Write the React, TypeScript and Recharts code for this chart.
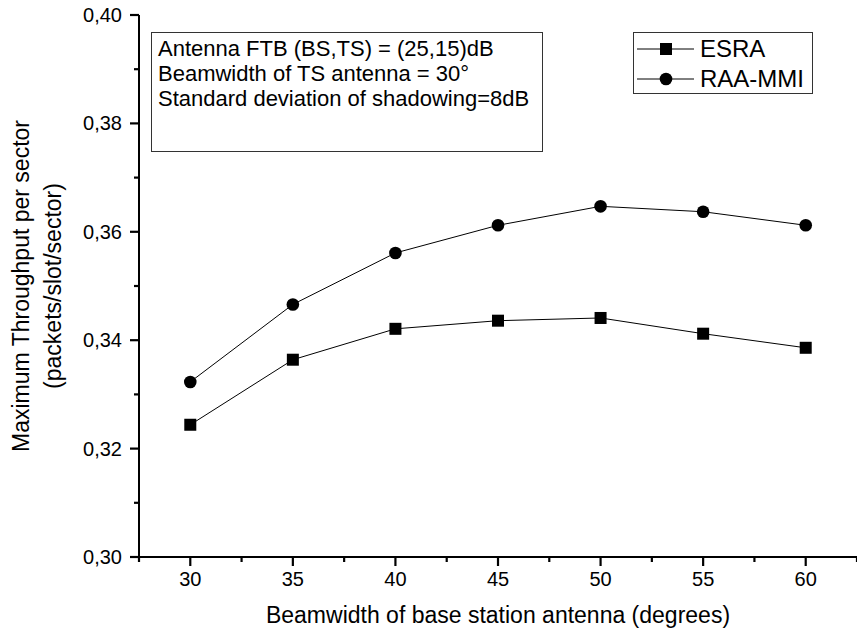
import { Legend, Line, LineChart, XAxis, YAxis } from "recharts";

const beamwidths = [30, 35, 40, 45, 50, 55, 60];
const esra = [0.3244, 0.3364, 0.3421, 0.3436, 0.3441, 0.3412, 0.3386];
const raaMmi = [0.3323, 0.3466, 0.3561, 0.3612, 0.3647, 0.3637, 0.3612];

const xTicks = [27.5, 30, 32.5, 35, 37.5, 40, 42.5, 45, 47.5, 50, 52.5, 55, 57.5, 60, 62.5];
const yTicks = [0.3, 0.31, 0.32, 0.33, 0.34, 0.35, 0.36, 0.37, 0.38, 0.39, 0.4];

const noteLines = [
  "Antenna FTB (BS,TS) = (25,15)dB",
  "Beamwidth of TS antenna = 30°",
  "Standard deviation of shadowing=8dB",
];

const data = beamwidths.map((b, i) => ({ b, esra: esra[i], raa: raaMmi[i] }));

const FONT = "Arial, 'Liberation Sans', sans-serif";

// tick marks: major 9px, minor 5px, pointing outward
function XTick(props: any) {
  const { x, y, payload } = props;
  const major = payload.value % 5 === 0;
  const len = major ? 9 : 5;
  return (
    <g>
      <path d={`M${x},${y}V${y + len}`} stroke="#000" strokeWidth={2.2} fill="none" />
      {major && (
        <text x={x} y={y + 29} textAnchor="middle" fontSize={20} fontFamily={FONT} fill="#000">
          {payload.value}
        </text>
      )}
    </g>
  );
}

function YTick(props: any) {
  const { x, y, payload } = props;
  const major = Math.round(payload.value * 100) % 2 === 0;
  const len = major ? 9 : 5;
  return (
    <g>
      <path d={`M${x},${y}H${x - len}`} stroke="#000" strokeWidth={2.2} fill="none" />
      {major && (
        <text x={x - 17} y={y} dy="0.35em" textAnchor="end" fontSize={20} fontFamily={FONT} fill="#000">
          {payload.value.toFixed(2).replace(".", ",")}
        </text>
      )}
    </g>
  );
}

function SquareDot(props: any) {
  const { cx, cy, index } = props;
  return <rect key={"s" + index} x={cx - 6} y={cy - 6} width={12} height={12} fill="#000" />;
}

function CircleDot(props: any) {
  const { cx, cy, index } = props;
  return <circle key={"c" + index} cx={cx} cy={cy} r={6.3} fill="#000" />;
}

function LegendBox() {
  const row = (label: string, square: boolean) => (
    <div style={{ display: "flex", alignItems: "center", height: 30 }}>
      <svg width={62} height={20}>
        <line x1={3} x2={60} y1={10} y2={10} stroke="#000" strokeWidth={1} />
        {square ? <rect x={26} y={4} width={12} height={12} fill="#000" /> : <circle cx={32} cy={10} r={6.3} fill="#000" />}
      </svg>
      <span style={{ marginLeft: 4 }}>{label}</span>
    </div>
  );
  return (
    <div
      style={{
        border: "1px solid #333",
        width: 180,
        height: 62,
        boxSizing: "border-box",
        fontFamily: FONT,
        fontSize: 24,
        color: "#000",
        paddingTop: 1,
        background: "#fff",
      }}
    >
      {row("ESRA", true)}
      {row("RAA-MMI", false)}
    </div>
  );
}

export default function App() {
  return (
    <div style={{ position: "absolute", left: 0, top: 0, width: 857, height: 632, background: "#fff" }}>
      <LineChart width={857} height={632} data={data} margin={{ top: 15, right: 0, bottom: 0, left: 0 }}>
        <XAxis
          dataKey="b"
          type="number"
          domain={[27.5, 62.5]}
          ticks={xTicks}
          interval={0}
          height={75}
          tickSize={0}
          tickMargin={0}
          tickLine={false}
          axisLine={{ stroke: "#000", strokeWidth: 2 }}
          tick={XTick}
        />
        <YAxis
          type="number"
          domain={[0.3, 0.4]}
          ticks={yTicks}
          interval={0}
          width={139}
          tickSize={0}
          tickMargin={0}
          tickLine={false}
          axisLine={{ stroke: "#000", strokeWidth: 2 }}
          tick={YTick}
        />
        <Legend
          layout="horizontal"
          verticalAlign="middle"
          align="center"
          wrapperStyle={{ position: "absolute", left: 633, top: 32, width: 180 }}
          content={() => <LegendBox />}
        />
        <Line dataKey="esra" stroke="#000" strokeWidth={1} dot={<SquareDot />} isAnimationActive={false} />
        <Line dataKey="raa" stroke="#000" strokeWidth={1} dot={<CircleDot />} isAnimationActive={false} />
      </LineChart>

      <div
        style={{
          position: "absolute",
          left: 151,
          top: 32,
          width: 392,
          height: 120,
          border: "1px solid #333",
          boxSizing: "border-box",
          fontFamily: FONT,
          fontSize: 22,
          lineHeight: "25px",
          padding: "3px 0 0 6px",
          color: "#000",
        }}
      >
        {noteLines.map((t) => (
          <div key={t}>{t}</div>
        ))}
      </div>

      <div
        style={{
          position: "absolute",
          left: 139,
          width: 718,
          top: 602,
          textAlign: "center",
          fontFamily: FONT,
          fontSize: 23,
          color: "#000",
        }}
      >
        Beamwidth of base station antenna (degrees)
      </div>

      <svg width={80} height={632} style={{ position: "absolute", left: 0, top: 0 }}>
        <text
          transform="translate(29,286) rotate(-90)"
          textAnchor="middle"
          fontFamily={FONT}
          fontSize={23}
          fill="#000"
        >
          Maximum Throughput per sector
        </text>
        <text
          transform="translate(61,286) rotate(-90)"
          textAnchor="middle"
          fontFamily={FONT}
          fontSize={23}
          fill="#000"
        >
          (packets/slot/sector)
        </text>
      </svg>
    </div>
  );
}
